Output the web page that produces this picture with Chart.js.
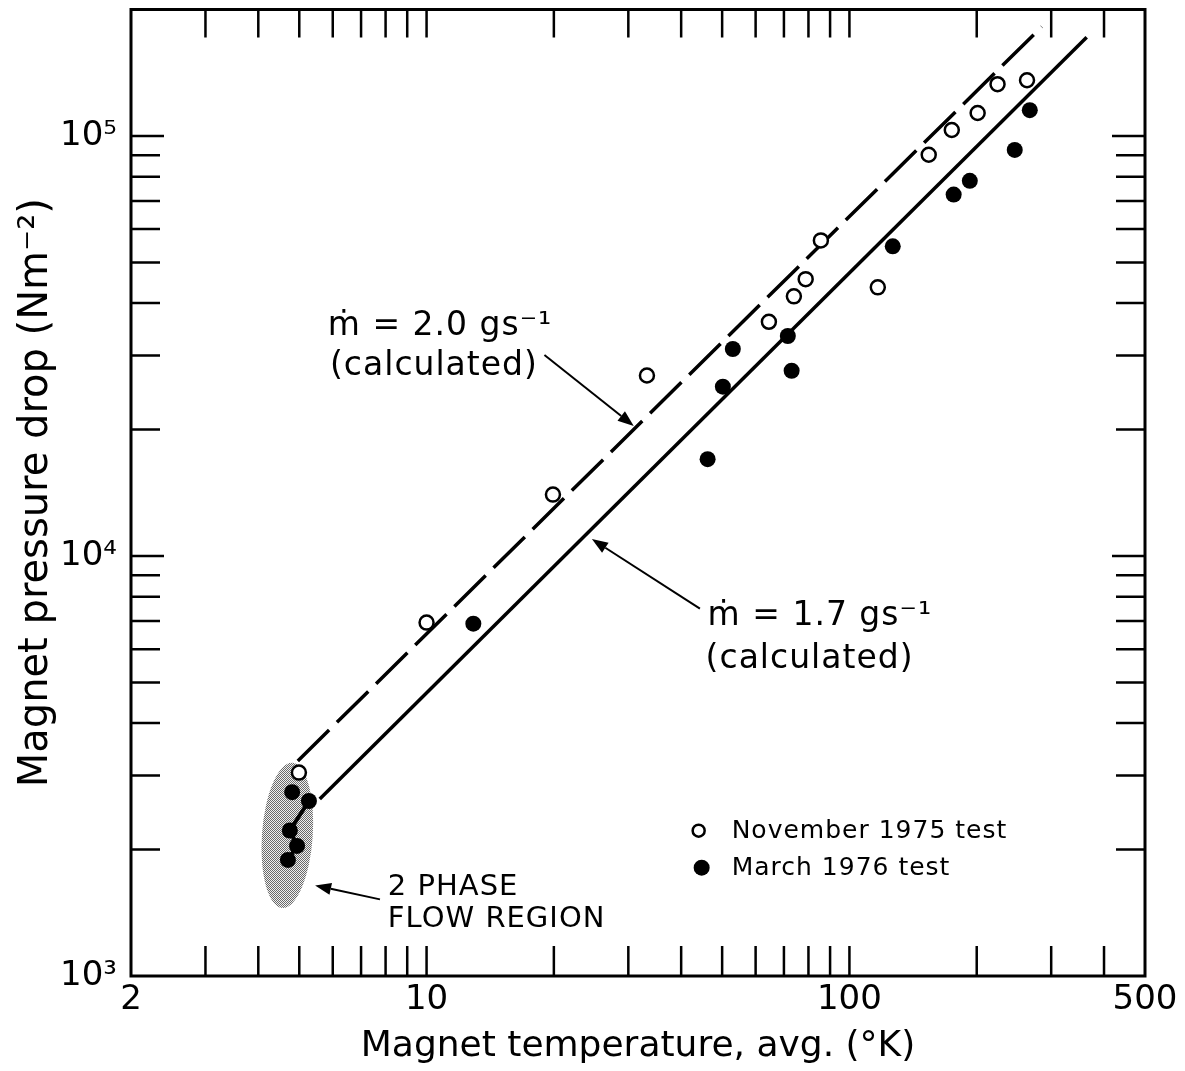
<!DOCTYPE html>
<html><head><meta charset="utf-8">
<script src="https://cdn.jsdelivr.net/npm/chart.js@4.4.0/dist/chart.umd.min.js"></script>
<style>html,body{margin:0;padding:0;background:#fff;}canvas{display:block;}</style>
</head><body>
<canvas id="c" width="1185" height="1071"></canvas>
<script>
// ---- data ----
const nov1975T = [4.99, 10.0, 19.9, 33.2, 64.5, 73.9, 78.8, 85.6, 116.7, 154, 174.6, 201, 224, 263];
const nov1975P = [3050, 6940, 14000, 26900, 36100, 41500, 45600, 56400, 43600, 90200, 103300, 113400, 132800, 135700];
const mar1976T = [4.81, 5.27, 4.75, 4.94, 4.70, 12.9, 46.2, 50.2, 53.0, 71.5, 73.0, 126.6, 176.4, 192.6, 246, 267];
const mar1976P = [2740, 2610, 2220, 2040, 1890, 6900, 17000, 25300, 31100, 33400, 27600, 54600, 72500, 78200, 92600, 115200];
const phaseLinkT = [5.27, 4.75, 4.94, 4.70];
const phaseLinkP = [2610, 2220, 2040, 1890];
const calc20T = [4.96, 285];
const calc20P = [3250, 182000];
const calc17T = [5.59, 364];
const calc17P = [2640, 171700];
const xTickLabels = [2, 10, 100, 500];
const yTickLabels = [1e3, 1e4, 1e5];
const xTickMarks = [3, 4, 5, 6, 7, 8, 9, 10, 20, 30, 40, 50, 60, 70, 80, 90, 100, 200, 300, 400];
const yTickMarks = [2e3, 3e3, 4e3, 5e3, 6e3, 7e3, 8e3, 9e3, 1e4, 2e4, 3e4, 4e4, 5e4, 6e4, 7e4, 8e4, 9e4, 1e5];
const legendLabels = ['November 1975 test', 'March 1976 test'];

// ---- annotations (anchored in data units) ----
const FONT = "'DejaVu Sans', 'Liberation Sans', sans-serif";
const phaseRegion = {xMin: 4.08, xMax: 5.38, yMin: 1450, yMax: 3220};
const arrows = [
  {from: [19.0, 30100], to: [30.9, 20400]},
  {from: [44.3, 7490], to: [24.6, 10970]},
  {from: [7.76, 1522], to: [5.45, 1643]}
];
const notes = [
  {text: 'ṁ = 2.0 gs⁻¹', at: [5.84, 33600], size: 33},
  {text: '(calculated)', at: [5.91, 27000], size: 33},
  {text: 'ṁ = 1.7 gs⁻¹', at: [46.2, 6860], size: 33},
  {text: '(calculated)', at: [45.7, 5400], size: 33},
  {text: '2 PHASE', at: [8.10, 1556], size: 29},
  {text: 'FLOW REGION', at: [8.10, 1306], size: 29}
];
const legendAnchor = [44.0, 2218];

const toXY = (xs, ys) => xs.map((v, i) => ({x: v, y: ys[i]}));
const sup = {3: '³', 4: '⁴', 5: '⁵'};

function stipple(ctx) {
  const c = document.createElement('canvas');
  c.width = c.height = 2;
  const g = c.getContext('2d');
  g.fillStyle = '#f0f0f0'; g.fillRect(0, 0, 2, 2);
  g.fillStyle = '#6a6a6a'; g.fillRect(0, 0, 1, 1); g.fillRect(1, 1, 1, 1);
  return ctx.createPattern(c, 'repeat');
}

const regionPlugin = {
  id: 'region',
  beforeDatasetsDraw(chart) {
    const {ctx, scales: {x, y}} = chart;
    const x0 = x.getPixelForValue(phaseRegion.xMin), x1 = x.getPixelForValue(phaseRegion.xMax);
    const y0 = y.getPixelForValue(phaseRegion.yMax), y1 = y.getPixelForValue(phaseRegion.yMin);
    ctx.save();
    ctx.fillStyle = stipple(ctx);
    ctx.beginPath();
    ctx.ellipse((x0 + x1) / 2, (y0 + y1) / 2, (x1 - x0) / 2, (y1 - y0) / 2, 0.07, 0, Math.PI * 2);
    ctx.fill();
    ctx.restore();
  }
};

const notesPlugin = {
  id: 'notes',
  afterDatasetsDraw(chart) {
    const {ctx, scales: {x, y}} = chart;
    ctx.save();
    ctx.fillStyle = '#000'; ctx.strokeStyle = '#000';
    arrows.forEach(a => {
      const fx = x.getPixelForValue(a.from[0]), fy = y.getPixelForValue(a.from[1]);
      const tx = x.getPixelForValue(a.to[0]), ty = y.getPixelForValue(a.to[1]);
      const ang = Math.atan2(ty - fy, tx - fx);
      const hl = 16, hw = 6;
      const bx = tx - hl * Math.cos(ang), by = ty - hl * Math.sin(ang);
      ctx.lineWidth = 2;
      ctx.beginPath(); ctx.moveTo(fx, fy); ctx.lineTo(bx, by); ctx.stroke();
      ctx.beginPath();
      ctx.moveTo(tx, ty);
      ctx.lineTo(bx + hw * Math.sin(ang), by - hw * Math.cos(ang));
      ctx.lineTo(bx - hw * Math.sin(ang), by + hw * Math.cos(ang));
      ctx.closePath(); ctx.fill();
    });
    ctx.textAlign = 'left'; ctx.textBaseline = 'alphabetic';
    notes.forEach(n => {
      ctx.font = n.size + 'px ' + FONT;
      ctx.letterSpacing = '1px';
      ctx.fillText(n.text, x.getPixelForValue(n.at[0]), y.getPixelForValue(n.at[1]));
    });
    const lx = x.getPixelForValue(legendAnchor[0]), ly = y.getPixelForValue(legendAnchor[1]);
    ctx.font = '25px ' + FONT;
    ctx.letterSpacing = '1px';
    ctx.textBaseline = 'middle';
    chart.data.datasets.slice(0, 2).forEach((ds, i) => {
      const cy = ly + i * 37;
      const cx = lx + i * 3;
      ctx.beginPath();
      ctx.arc(cx, cy, i === 0 ? 6 : 8, 0, Math.PI * 2);
      if (i === 0) { ctx.fillStyle = '#fff'; ctx.fill(); ctx.lineWidth = 2.5; ctx.stroke(); }
      else { ctx.fillStyle = '#000'; ctx.fill(); }
      ctx.fillStyle = '#000';
      ctx.fillText(ds.label, lx + 33, cy + 1);
    });
    ctx.restore();
  }
};

const framePlugin = {
  id: 'frame',
  afterDraw(chart) {
    const {ctx, chartArea: a, scales: {x, y}} = chart;
    ctx.save();
    ctx.strokeStyle = '#000';
    ctx.lineWidth = 2.5;
    ctx.beginPath();
    xTickMarks.forEach(v => {
      const px = x.getPixelForValue(v);
      ctx.moveTo(px, a.bottom); ctx.lineTo(px, a.bottom - 30);
      ctx.moveTo(px, a.top); ctx.lineTo(px, a.top + 28);
    });
    yTickMarks.forEach(v => {
      const py = y.getPixelForValue(v);
      const dec = Math.abs(Math.log10(v) - Math.round(Math.log10(v))) < 1e-9;
      const L = dec ? 33 : 29;
      ctx.moveTo(a.left, py); ctx.lineTo(a.left + L, py);
      ctx.moveTo(a.right, py); ctx.lineTo(a.right - L, py);
    });
    ctx.stroke();
    ctx.lineWidth = 3;
    ctx.strokeRect(a.left, a.top, a.right - a.left, a.bottom - a.top);
    ctx.restore();
  }
};

new Chart(document.getElementById('c'), {
  type: 'scatter',
  data: {
    datasets: [
      {label: legendLabels[0], data: toXY(nov1975T, nov1975P), pointStyle: 'circle', pointRadius: 7,
       pointBackgroundColor: '#fff', pointBorderColor: '#000', pointBorderWidth: 2.5, showLine: false},
      {label: legendLabels[1], data: toXY(mar1976T, mar1976P), pointStyle: 'circle', pointRadius: 8,
       pointBackgroundColor: '#000', pointBorderColor: '#000', pointBorderWidth: 0, showLine: false},
      {label: 'phase link', data: toXY(phaseLinkT, phaseLinkP), showLine: true, pointRadius: 0,
       borderColor: '#000', borderWidth: 4, fill: false},
      {label: 'ṁ = 2.0 gs⁻¹ (calculated)', data: toXY(calc20T, calc20P), showLine: true, pointRadius: 0,
       borderColor: '#000', borderWidth: 3.5, borderDash: [44, 11], fill: false},
      {label: 'ṁ = 1.7 gs⁻¹ (calculated)', data: toXY(calc17T, calc17P), showLine: true, pointRadius: 0,
       borderColor: '#000', borderWidth: 3.5, fill: false}
    ]
  },
  options: {
    responsive: false, animation: false, devicePixelRatio: 1,
    layout: {padding: {left: 0, right: 40, top: 7, bottom: 0}},
    plugins: {legend: {display: false}, tooltip: {enabled: false}},
    scales: {
      x: {
        type: 'logarithmic', min: 2, max: 500, position: 'bottom',
        afterBuildTicks: s => { s.ticks = xTickLabels.map(v => ({value: v})); },
        afterFit: s => { s.height = 95; s.paddingLeft = 0; s.paddingRight = 0; },
        grid: {display: false, drawTicks: false}, border: {display: false},
        ticks: {autoSkip: false, maxRotation: 0, minRotation: 0, padding: 7, color: '#000',
                font: {family: FONT, size: 34, lineHeight: 1}, callback: v => String(v)},
        title: {display: true, text: 'Magnet temperature, avg. (°K)', color: '#000',
                font: {family: FONT, size: 36, lineHeight: 1}, padding: {top: 0, bottom: 6}}
      },
      y: {
        type: 'logarithmic', min: 1000, max: 200000, position: 'left',
        afterBuildTicks: s => { s.ticks = yTickLabels.map(v => ({value: v})); },
        afterFit: s => { s.width = 131; s.paddingTop = 0; s.paddingBottom = 0; },
        grid: {display: false, drawTicks: false}, border: {display: false},
        ticks: {autoSkip: false, padding: 14, color: '#000',
                font: {family: FONT, size: 34, lineHeight: 1},
                callback: v => '10' + sup[Math.round(Math.log10(v))]},
        title: {display: true, text: 'Magnet pressure drop (Nm⁻²)', color: '#000',
                font: {family: FONT, size: 40, lineHeight: 1}, padding: {top: 17, bottom: 0}}
      }
    }
  },
  plugins: [regionPlugin, notesPlugin, framePlugin]
});
</script>
</body></html>
